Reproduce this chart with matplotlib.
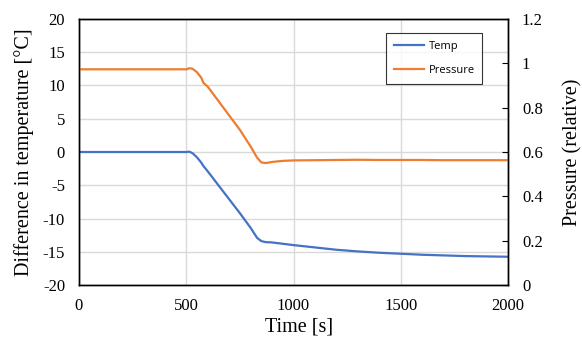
import matplotlib
matplotlib.use("Agg")
import matplotlib.pyplot as plt
from matplotlib.lines import Line2D

# values
time = [0, 500, 515, 530, 550, 570, 580, 600, 650, 700, 750, 800, 830, 850, 870,
        900, 950, 1000, 1100, 1200, 1300, 1400, 1500, 1600, 1700, 1800, 1900, 2000]
temp = [0, 0, 0.05, -0.2, -0.8, -1.6, -2.1, -2.9, -5.0, -7.1, -9.2, -11.4, -12.9,
        -13.4, -13.55, -13.6, -13.8, -14.0, -14.35, -14.7, -14.95, -15.15, -15.3,
        -15.45, -15.55, -15.65, -15.7, -15.75]
pressure = [0.973, 0.973, 0.978, 0.975, 0.96, 0.935, 0.912, 0.895, 0.83, 0.765,
            0.70, 0.625, 0.575, 0.553, 0.55, 0.555, 0.56, 0.562, 0.563, 0.564,
            0.565, 0.564, 0.564, 0.564, 0.563, 0.563, 0.563, 0.563]

blue = '#4472C4'
orange = '#ED7D31'
serif = 'Liberation Serif'
plt.rcParams['axes.unicode_minus'] = False

fig = plt.figure(figsize=(5.82, 3.44), dpi=100)
ax = fig.add_axes([0.1357, 0.1715, 0.7372, 0.7733])
ax2 = ax.twinx()

ax.plot(time, temp, color=blue, lw=1.6)
ax2.plot(time, pressure, color=orange, lw=1.6)

ax.set_xlim(0, 2000)
ax.set_ylim(-20, 20)
ax2.set_ylim(0, 1.2)
ax.set_xticks([0, 500, 1000, 1500, 2000])
ax.set_yticks(range(-20, 21, 5))
ax2.set_yticks([0, 0.2, 0.4, 0.6, 0.8, 1.0, 1.2])
ax2.set_yticklabels(['0', '0.2', '0.4', '0.6', '0.8', '1', '1.2'])

ax.grid(True, color='#D9D9D9', lw=1)
ax.set_axisbelow(True)
ax.tick_params(axis='y', length=0, pad=10, labelsize=12)
ax.tick_params(axis='x', length=0, pad=9, labelsize=12)
ax2.tick_params(axis='y', direction='in', length=4, pad=10, labelsize=12)
for lab in ax.get_xticklabels() + ax.get_yticklabels() + ax2.get_yticklabels():
    lab.set_family(serif)

for a in (ax, ax2):
    for s in a.spines.values():
        s.set_linewidth(1.0)
        s.set_color('black')

ax.set_xlabel('Time [s]', family=serif, fontsize=14.5, labelpad=3)
ax.xaxis.label.set_x(0.512)
ax.set_ylabel('Difference in temperature [°C]', family=serif, fontsize=14.5, labelpad=6)
ax2.set_ylabel('Pressure (relative)', family=serif, fontsize=14.5, labelpad=15)

handles = [Line2D([], [], color=blue, lw=1.6), Line2D([], [], color=orange, lw=1.6)]
leg = ax2.legend(handles, ['Temp', 'Pressure'], loc='upper left',
                 bbox_to_anchor=(0.716, 0.947), borderaxespad=0,
                 prop={'family': 'Open Sans', 'size': 8},
                 frameon=True, fancybox=False, edgecolor='black', handlelength=2.7,
                 borderpad=0.7, labelspacing=1.2, handletextpad=0.4)
leg.get_frame().set_linewidth(0.8)

fig.savefig('out.png', dpi=100)
